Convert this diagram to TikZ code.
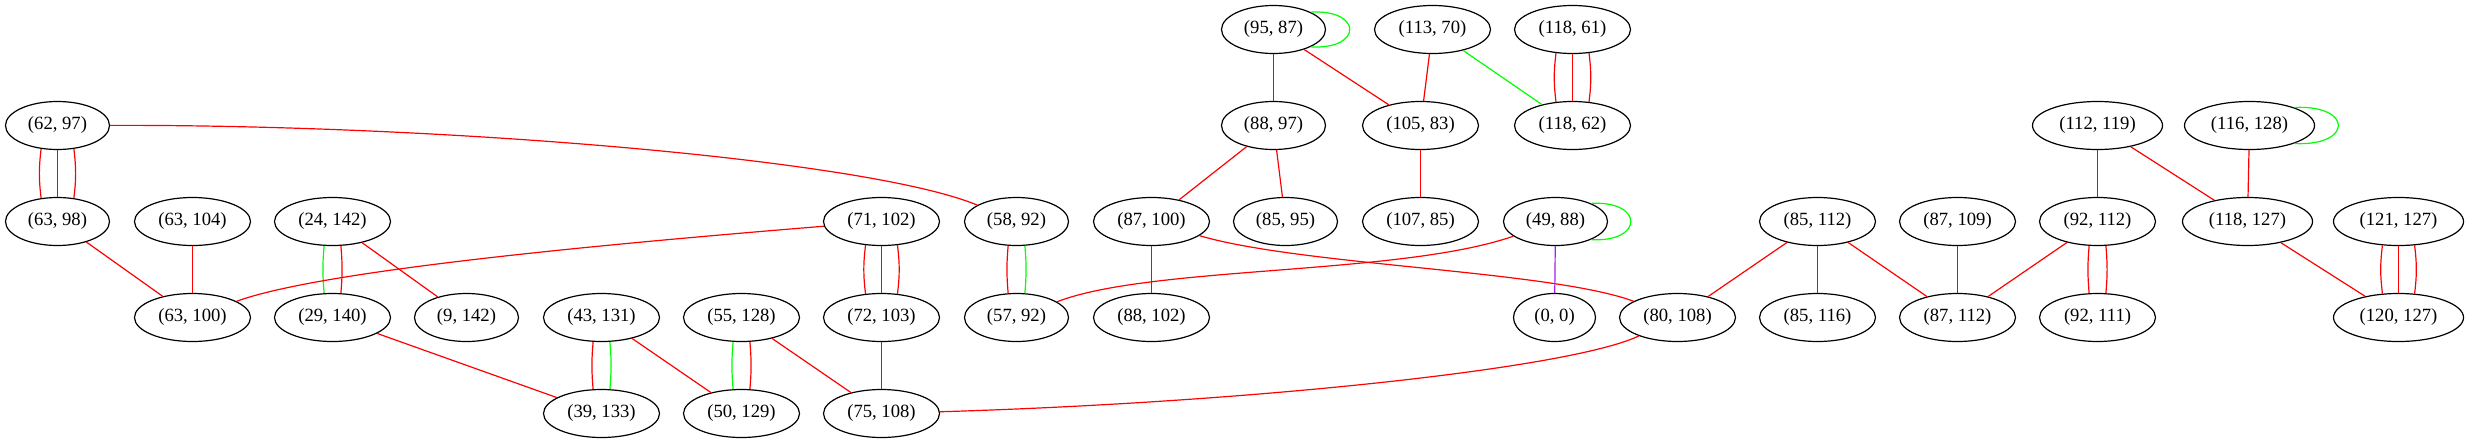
\documentclass[tikz,border=0pt]{standalone}
\usepackage{fontspec}
\setmainfont{Liberation Serif}
\usetikzlibrary{shapes.geometric}
\definecolor{gvred}{RGB}{255,0,0}
\definecolor{gvgreen}{RGB}{0,255,0}
\definecolor{gvpurple}{RGB}{160,32,240}
\begin{document}
\begin{tikzpicture}[x=0.75pt,y=-0.75pt,
  v/.style={draw, ellipse, line width=0.9pt, inner sep=0pt, minimum height=36pt, minimum width=78pt, font=\fontsize{14}{16}\selectfont},
  wfive/.style={minimum width=87pt},
  wsix/.style={minimum width=97.5pt},
  wtwo/.style={minimum width=61.5pt},
  r/.style={draw=gvred, line width=0.9pt},
  g/.style={draw=gvgreen, line width=0.9pt},
  p/.style={draw=gvpurple, line width=0.9pt}]
\useasboundingbox (-0.5,-0.5) rectangle (2467.5,442.5);
% row 0
\node[v] (n9587) at (1273,29) {(95, 87)};
\node[v,wfive] (n11370) at (1432,29) {(113, 70)};
\node[v,wfive] (n11861) at (1572,29) {(118, 61)};
% row 1
\node[v] (n6297) at (57,125) {(62, 97)};
\node[v] (n8897) at (1273,125) {(88, 97)};
\node[v,wfive] (n10583) at (1420,125) {(105, 83)};
\node[v,wfive] (n11862) at (1572,125) {(118, 62)};
\node[v,wsix] (n112119) at (2097,125) {(112, 119)};
\node[v,wsix] (n116128) at (2249,125) {(116, 128)};
% row 2
\node[v] (n6398) at (57,221) {(63, 98)};
\node[v,wfive] (n63104) at (192,221) {(63, 104)};
\node[v,wfive] (n24142) at (332,221) {(24, 142)};
\node[v,wfive] (n71102) at (881,221) {(71, 102)};
\node[v] (n5892) at (1016,221) {(58, 92)};
\node[v,wfive] (n87100) at (1151,221) {(87, 100)};
\node[v] (n8595) at (1285,221) {(85, 95)};
\node[v,wfive] (n10785) at (1420,221) {(107, 85)};
\node[v] (n4988) at (1555,221) {(49, 88)};
\node[v,wfive] (n85112) at (1817,221) {(85, 112)};
\node[v,wfive] (n87109) at (1957,221) {(87, 109)};
\node[v,wfive] (n92112) at (2097,221) {(92, 112)};
\node[v,wsix] (n118127) at (2247,221) {(118, 127)};
\node[v,wsix] (n121127) at (2398,221) {(121, 127)};
% row 3
\node[v,wfive] (n63100) at (192,317) {(63, 100)};
\node[v,wfive] (n29140) at (332,317) {(29, 140)};
\node[v] (n9142) at (466,317) {(9, 142)};
\node[v,wfive] (n43131) at (601,317) {(43, 131)};
\node[v,wfive] (n55128) at (741,317) {(55, 128)};
\node[v,wfive] (n72103) at (881,317) {(72, 103)};
\node[v] (n5792) at (1016,317) {(57, 92)};
\node[v,wfive] (n88102) at (1151,317) {(88, 102)};
\node[v,wtwo] (n00) at (1554,317) {(0, 0)};
\node[v,wfive] (n80108) at (1677,317) {(80, 108)};
\node[v,wfive] (n85116) at (1817,317) {(85, 116)};
\node[v,wfive] (n87112) at (1957,317) {(87, 112)};
\node[v,wfive] (n92111) at (2097,317) {(92, 111)};
\node[v,wsix] (n120127) at (2398,317) {(120, 127)};
% row 4
\node[v,wfive] (n39133) at (601,413) {(39, 133)};
\node[v,wfive] (n50129) at (741,413) {(50, 129)};
\node[v,wfive] (n75108) at (881,413) {(75, 108)};

% triple edges
\draw[r] (n6297.-125) to[bend right=7] (n6398.125);
\draw[r] (n6297) -- (n6398);
\draw[r] (n6297.-55) to[bend left=7] (n6398.55);
\draw[r] (n71102.-124) to[bend right=7] (n72103.124);
\draw[r] (n71102) -- (n72103);
\draw[r] (n71102.-56) to[bend left=7] (n72103.56);
\draw[r] (n11861.-125) to[bend right=7] (n11862.125);
\draw[r] (n11861) -- (n11862);
\draw[r] (n11861.-55) to[bend left=7] (n11862.55);
\draw[r] (n121127.-124) to[bend right=7] (n120127.124);
\draw[r] (n121127) -- (n120127);
\draw[r] (n121127.-56) to[bend left=7] (n120127.56);
% double edges
\draw[g] (n24142.-109) to[bend right=5] (n29140.109);
\draw[r] (n24142.-71) to[bend left=5] (n29140.71);
\draw[r] (n43131.-109) to[bend right=5] (n39133.109);
\draw[g] (n43131.-71) to[bend left=5] (n39133.71);
\draw[g] (n55128.-109) to[bend right=5] (n50129.109);
\draw[r] (n55128.-71) to[bend left=5] (n50129.71);
\draw[r] (n5892.-109) to[bend right=5] (n5792.109);
\draw[g] (n5892.-71) to[bend left=5] (n5792.71);
\draw[r] (n92112.-109) to[bend right=5] (n92111.109);
\draw[r] (n92112.-71) to[bend left=5] (n92111.71);
% self loops
\draw[g] (n9587.25) .. controls +(52,-3) and +(52,3) .. (n9587.-25);
\draw[g] (n4988.27) .. controls +(53,-3) and +(53,3) .. (n4988.-27);
\draw[g] (n116128.22) .. controls +(59,-3) and +(59,3) .. (n116128.-22);
% curved edges
\draw[r] (n6297) .. controls (450,124) and (870,160) .. (n5892);
\draw[r] (n71102) .. controls (600,244) and (320,270) .. (n63100);
\draw[r] (n4988) .. controls (1400,275) and (1150,265) .. (n5792);
\draw[r] (n87100) .. controls (1300,265) and (1550,270) .. (n80108);
\draw[r] (n75108) .. controls (1250,402) and (1570,368) .. (n80108);
% straight edges
\draw[r] (n6398) -- (n63100);
\draw[r] (n63104) -- (n63100);
\draw[r] (n24142) -- (n9142);
\draw[r] (n29140) -- (n39133);
\draw[r] (n43131) -- (n50129);
\draw[r] (n55128) -- (n75108);
\draw[r] (n72103) -- (n75108);
\draw[r] (n87100) -- (n88102);
\draw[r] (n8897) -- (n87100);
\draw[r] (n8897) -- (n8595);
\draw[r] (n9587) -- (n8897);
\draw[r] (n9587) -- (n10583);
\draw[r] (n11370) -- (n10583);
\draw[g] (n11370) -- (n11862);
\draw[r] (n10583) -- (n10785);
\draw[p] (n4988) -- (n00);
\draw[r] (n85112) -- (n80108);
\draw[r] (n85112) -- (n85116);
\draw[r] (n85112) -- (n87112);
\draw[r] (n87109) -- (n87112);
\draw[r] (n92112) -- (n87112);
\draw[r] (n112119) -- (n92112);
\draw[r] (n112119) -- (n118127);
\draw[r] (n116128) -- (n118127);
\draw[r] (n118127) -- (n120127);
\end{tikzpicture}
\end{document}
